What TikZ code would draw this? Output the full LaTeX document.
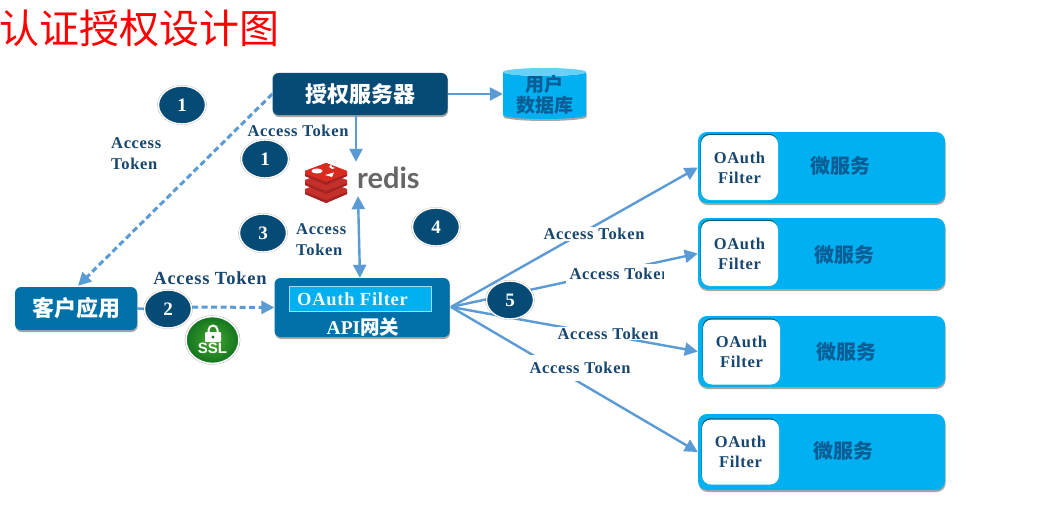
\documentclass[tikz,border=0pt]{standalone}
\usepackage{fontspec}
\setmainfont{Liberation Serif}
\newfontfamily\cjk{Noto Sans CJK SC}
\newcommand{\cjkb}{\cjk\bfseries}
\newfontfamily\latn{Liberation Serif}[LetterSpace=4]
\newfontfamily\redisfont{Lato}
\newfontfamily\sslfont{Liberation Sans}
\usetikzlibrary{arrows.meta,shadows,shapes.geometric}
\definecolor{navy}{HTML}{064A76}
\definecolor{steel}{HTML}{0070A8}
\definecolor{sky}{HTML}{00B0F0}
\definecolor{link}{HTML}{5B9BD5}
\definecolor{labelc}{HTML}{17466F}
\definecolor{svc}{HTML}{0A5E96}
\definecolor{rA}{HTML}{A32422}
\definecolor{rB}{HTML}{C6302B}
\definecolor{rC}{HTML}{D82C20}
\definecolor{sslin}{HTML}{45A82E}
\definecolor{sslout}{HTML}{12741F}
\tikzset{
  softshadow/.style={drop shadow={shadow xshift=0.6pt,shadow yshift=-2pt,fill=black,opacity=.35}},
  navybox/.style={draw=none,fill=navy,rounded corners=6pt,softshadow,text=white,inner sep=0pt},
  steelbox/.style={draw=none,fill=steel,rounded corners=6pt,softshadow,text=white,inner sep=0pt},
  svcbox/.style={draw=none,fill=sky,rounded corners=9pt,softshadow,minimum width=247pt,inner sep=0pt},
  filterbox/.style={fill=white,rounded corners=9pt,minimum width=77pt,minimum height=65pt,inner sep=0pt,align=center,text=labelc,font=\latn\bfseries\fontsize{16.5}{20}\selectfont,drop shadow={shadow xshift=-.4pt,shadow yshift=1.2pt,fill=black,opacity=.5}},
  badge/.style={ellipse,fill=navy,draw=white,line width=1.4pt,minimum width=47pt,minimum height=38pt,inner sep=0pt,text=white,font=\bfseries\fontsize{19}{19}\selectfont,drop shadow={shadow xshift=0pt,shadow yshift=0pt,shadow scale=1.05,fill=black,opacity=.3}},
  tok/.style={text=labelc,font=\latn\bfseries\fontsize{16.5}{21}\selectfont,inner sep=1pt,align=left},
  tokw/.style={tok,fill=white},
  conn/.style={draw=link,line width=2.4pt,-{Triangle[length=13pt,width=13pt]}},
  conndash/.style={conn,line width=3pt,dash pattern=on 6pt off 3.5pt},
  conntwo/.style={draw=link,line width=2.4pt,{Triangle[length=13pt,width=13pt]}-{Triangle[length=13pt,width=13pt]}},
  plain/.style={draw=link,line width=2.4pt},
  svclabel/.style={text=svc,font=\cjkb\fontsize{20}{20}\selectfont,inner sep=0pt},
}
\begin{document}
\begin{tikzpicture}[x=1pt,y=-1pt]
\useasboundingbox (0,0) rectangle (1064,532);
\fill[white] (0,0) rectangle (1064,532);
% title
\node[text=red,font=\cjk\fontsize{40}{40}\selectfont,anchor=center,inner sep=0pt] (title) at (139,28) {认证授权设计图};

% boxes
\node[navybox,minimum width=175pt,minimum height=42pt,font=\cjkb\fontsize{22}{22}\selectfont] (auth) at (360,94) {授权服务器};
\node[steelbox,minimum width=122pt,minimum height=43pt,font=\cjkb\fontsize{22}{22}\selectfont] (client) at (76,308.5) {客户应用};
\node[steelbox,minimum width=175pt,minimum height=59pt] (gw) at (362,307.5) {};
\node[fill=sky,draw=white!60!sky,line width=.8pt,minimum width=142pt,minimum height=25pt,inner sep=0pt] (filter) at (360,298.5) {};
\node[anchor=west,text=white!92!sky,font=\latn\bfseries\fontsize{18.5}{16}\selectfont,inner sep=0pt] (filtertxt) at (297,299.5) {OAuth Filter};
\node[text=white,font=\bfseries\fontsize{19.5}{19}\selectfont,inner sep=0pt] (gwtxt) at (363,327) {API{\cjkb 网关}};

% database
\fill[sky,softshadow] (503,72) -- (503,115) arc (180:0:41.5 and 4) -- (586,72) arc (0:180:41.5 and 4) -- cycle;
\fill[sky!60] (544.5,72) ellipse (41.5 and 4);
\node[inner sep=0pt,minimum width=83pt,minimum height=46pt,align=center,text=svc,font=\cjkb\fontsize{19}{21}\selectfont] (db) at (544.5,95) {用户\\数据库};

% services
\node[svcbox,minimum height=71pt] (s1) at (821.5,167.5) {};
\node[svcbox,minimum height=71pt] (s2) at (821.5,253.5) {};
\node[svcbox,minimum height=71pt] (s3) at (821.5,351.5) {};
\node[svcbox,minimum height=76pt] (s4) at (821.5,452) {};
\node[filterbox] (f1) at (739.5,167.5) {OAuth\\Filter};
\node[filterbox] (f2) at (739.5,253.5) {OAuth\\Filter};
\node[filterbox] (f3) at (741.5,352) {OAuth\\Filter};
\node[filterbox] (f4) at (740.5,452) {OAuth\\Filter};
\node[svclabel] (l1) at (840,166) {微服务};
\node[svclabel] (l2) at (844,255) {微服务};
\node[svclabel] (l3) at (846,352) {微服务};
\node[svclabel] (l4) at (843,451) {微服务};

% redis logo
\node[inner sep=0pt,minimum width=116pt,minimum height=34pt] (redis) at (362,179) {};
\begin{scope}[shift={(326,180)}]
  \foreach \dy/\c in {9/rB,0/rB,-9/rC}{
    \fill[\c] (-21,\dy) -- (0,\dy-8) -- (21,\dy) -- (21,\dy+5) -- (0,\dy+14) -- (-21,\dy+5) -- cycle;
    \fill[rA] (-21,\dy+3) -- (0,\dy+11) -- (21,\dy+3) -- (21,\dy+5) -- (0,\dy+14) -- (-21,\dy+5) -- cycle;
  }
  \fill[rC] (-21,-9) -- (0,-17) -- (21,-9) -- (0,0) -- cycle;
  \fill[white] (-9,-9) ellipse (5.5 and 2.5);
  \fill[white] (3,-13) -- (5,-15.5) -- (6,-13) -- (9,-12) -- (6,-11) -- cycle;
  \fill[white] (-1,-5) -- (8,-7.5) -- (6,-3) -- cycle;
\end{scope}
\node[anchor=west,inner sep=0pt,text=black!60,font=\redisfont\bfseries\fontsize{29}{29}\selectfont] (redistxt) at (357,178) {redis};

% connectors
\draw[conn] (auth.east) -- (db.west |- auth.east);
\draw[conn] ([xshift=-4pt]auth.south) -- ([xshift=-6pt]redis.north);
\draw[conntwo] ([xshift=-4pt]redis.south) -- ([xshift=-2pt]gw.north);
\draw[conndash] (auth.west) -- ([xshift=2pt,yshift=1pt]client.north);
\coordinate (fan) at (451,307);
\draw[conn] (fan) -- (s1.west);
\draw[conn] (fan) -- (s2.west);
\draw[conn] (fan) -- (s3.west);
\draw[conn] (fan) -- (s4.west);

% badges
\node[badge] (b1) at (182,105) {1};
\node[badge] (b1b) at (265,159) {1};
\node[badge] (b3) at (263,233) {3};
\node[badge] (b4) at (436,227) {4};
\draw[plain] (client.east) -- (150,309);
\node[badge] (b2) at (168,309) {2};
\node[badge] (b5) at (510,300) {5};
\draw[conndash] ([yshift=2pt]b2.east) -- (gw.west);

% ssl
\node[ellipse,inner color=sslin,outer color=sslout,draw=white,line width=1.6pt,minimum width=53pt,minimum height=47pt,inner sep=0pt,drop shadow={shadow xshift=0pt,shadow yshift=0pt,shadow scale=1.05,fill=black,opacity=.3}] (ssl) at (212.5,340) {};
\node[text=white,font=\sslfont\bfseries\fontsize{15}{15}\selectfont,inner sep=0pt] (ssltxt) at (212.5,348.5) {SSL};
\fill[white,rounded corners=1pt] (205,332) rectangle (221,342);
\draw[white,line width=2pt] (208.5,332) -- (208.5,330) arc (180:360:4.5 and 4.5) -- (217.5,332);
\fill[sslout] (213,337) circle (1.6);

% labels
\node[tok,anchor=west] (t1) at (110,154) {Access\\Token};
\node[tokw] (t2) at (298,131) {Access Token};
\node[tok,anchor=west] (t3) at (295,240) {Access\\Token};
\node[tok,font=\latn\bfseries\fontsize{18.5}{21}\selectfont] (t4) at (210,278.5) {Access Token};
\node[tokw] (t5) at (594,234) {Access Token};
\fill[white] (566,264) rectangle (665,283);
\begin{scope}
  \clip (560,262) rectangle (663,285);
  \node[tok] (t6) at (620,273.5) {Access Token};
\end{scope}
\node[tokw] (t7) at (608,333.5) {Access Token};
\node[tokw,minimum height=26pt] (t8) at (580,368) {Access Token};
\end{tikzpicture}
\end{document}
